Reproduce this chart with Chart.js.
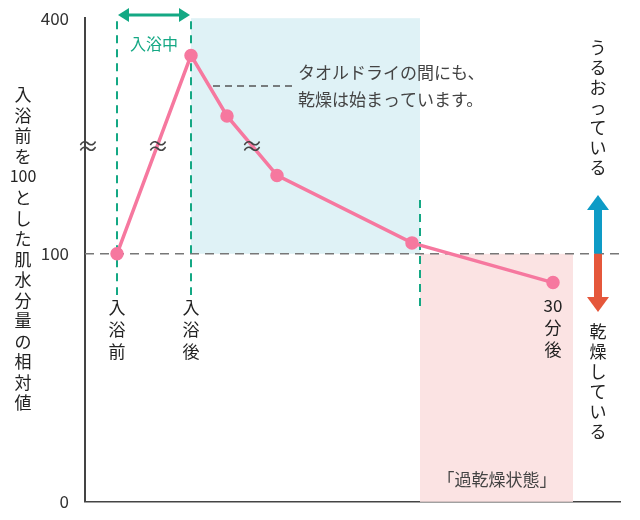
<!DOCTYPE html>
<html>
<head>
<meta charset="utf-8">
<script src="https://cdn.jsdelivr.net/npm/chart.js@4/dist/chart.umd.min.js"></script>
<style>
  html, body { margin: 0; background: #fff; }
  #wrap { width: 640px; height: 520px; }
</style>
</head>
<body>
<div id="wrap"><canvas id="c"></canvas></div>
<script>
  // x: time position along the chart (arbitrary units), y: display units (broken axis, 100 = before bath)
  const timeX = [32, 106, 142, 192, 327, 468];
  const moisture = [100, 180, 155.6, 131.6, 104.4, 88.4];
  const tickValues = [0, 100, 195];
  const tickLabels = ['0', '100', '400'];

  const FONT = '"Noto Sans CJK JP", "Noto Sans", sans-serif';
  const GREEN = '#14a884';

  const vText = (ctx, str, x, y, step) => {
      [...str].forEach((ch, i) => ctx.fillText(ch, x, y + i * step));
  };

  const arrowH = (ctx, x1, x2, y, col) => {
      ctx.strokeStyle = col; ctx.fillStyle = col; ctx.lineWidth = 3;
      ctx.beginPath(); ctx.moveTo(x1 + 8, y); ctx.lineTo(x2 - 8, y); ctx.stroke();
      ctx.beginPath(); ctx.moveTo(x1, y); ctx.lineTo(x1 + 11, y - 7); ctx.lineTo(x1 + 11, y + 7); ctx.fill();
      ctx.beginPath(); ctx.moveTo(x2, y); ctx.lineTo(x2 - 11, y - 7); ctx.lineTo(x2 - 11, y + 7); ctx.fill();
  };

  const arrowV = (ctx, x, y1, y2, col) => {
      // shaft from y1 to arrow head at y2
      const dir = y2 < y1 ? -1 : 1;
      ctx.fillStyle = col;
      ctx.fillRect(x - 4, Math.min(y1, y2 - dir * 14), 8, Math.abs(y2 - dir * 14 - y1));
      ctx.beginPath(); ctx.moveTo(x, y2); ctx.lineTo(x - 11, y2 - dir * 15); ctx.lineTo(x + 11, y2 - dir * 15); ctx.fill();
  };

  const decor = {
      id: 'decor',
      beforeDatasetsDraw(chart) {
          const { ctx, scales: { x, y }, chartArea: a } = chart;
          const y100 = y.getPixelForValue(100);
          ctx.save();
          // shaded areas
          ctx.fillStyle = '#dff2f6';
          ctx.fillRect(x.getPixelForValue(106), a.top, x.getPixelForValue(335) - x.getPixelForValue(106), y100 - a.top);
          ctx.fillStyle = '#fbe3e3';
          ctx.fillRect(x.getPixelForValue(335), y100, x.getPixelForValue(488) - x.getPixelForValue(335), a.bottom - y100);
          // 100 reference line
          ctx.setLineDash([9, 6]); ctx.lineWidth = 1.5; ctx.strokeStyle = '#777';
          ctx.beginPath(); ctx.moveTo(a.left, y100); ctx.lineTo(a.right, y100); ctx.stroke();
          // green dashed verticals
          ctx.strokeStyle = GREEN; ctx.lineWidth = 2; ctx.setLineDash([8, 6]);
          [[32, a.top + 3, 295], [106, a.top + 3, 295], [335, 200, 312]].forEach(([v, t, b]) => {
              const px = x.getPixelForValue(v);
              ctx.beginPath(); ctx.moveTo(px, t); ctx.lineTo(px, b); ctx.stroke();
          });
          // leader line
          ctx.strokeStyle = '#555'; ctx.lineWidth = 1.5; ctx.setLineDash([7, 5]);
          ctx.beginPath(); ctx.moveTo(213, 86); ctx.lineTo(295, 86); ctx.stroke();
          ctx.restore();
      },
      afterDraw(chart) {
          const { ctx, scales: { x, y } } = chart;
          ctx.save();
          ctx.textAlign = 'center'; ctx.textBaseline = 'middle';
          // 入浴中
          arrowH(ctx, x.getPixelForValue(32) + 1, x.getPixelForValue(106) - 1, 15, GREEN);
          ctx.fillStyle = GREEN; ctx.font = '16px ' + FONT;
          ctx.fillText('入浴中', 154, 44);
          // wave marks
          ctx.fillStyle = '#444'; ctx.font = '22px ' + FONT;
          [88, 158, 252].forEach(px => ctx.fillText('≈', px, 146));
          // point labels
          ctx.fillStyle = '#222'; ctx.font = '17px ' + FONT;
          vText(ctx, '入浴前', x.getPixelForValue(32), 308, 22);
          vText(ctx, '入浴後', x.getPixelForValue(106), 308, 22);
          ctx.fillText('30', 553, 306); vText(ctx, '分後', 553, 328, 22);
          // annotation
          ctx.fillStyle = '#444'; ctx.textAlign = 'left';
          ctx.fillText('タオルドライの間にも、', 298, 73);
          ctx.fillText('乾燥は始まっています。', 298, 100);
          ctx.textAlign = 'center';
          ctx.fillText('「過乾燥状態」', 497, 480);
          // left axis title
          ctx.fillStyle = '#222';
          vText(ctx, '入浴前を', 23, 95, 20.5);
          ctx.font = '16px ' + FONT; ctx.fillText('100', 23, 176);
          ctx.font = '17px ' + FONT;
          vText(ctx, 'とした肌水分量の相対値', 23, 198, 20.5);
          // right side
          vText(ctx, 'うるおっている', 598, 48, 20);
          vText(ctx, '乾燥している', 598, 332, 20);
          arrowV(ctx, 598, y.getPixelForValue(100), 195, '#0e9bc6');
          arrowV(ctx, 598, y.getPixelForValue(100), 312, '#e5573b');
          ctx.restore();
      }
  };

  document.addEventListener('DOMContentLoaded', () => {
      new Chart(document.getElementById('c'), {
          type: 'scatter',
          data: {
              datasets: [{
                  data: timeX.map((t, i) => ({ x: t, y: moisture[i] })),
                  showLine: true,
                  borderColor: '#f6789f',
                  backgroundColor: '#f6789f',
                  borderWidth: 3.5,
                  pointRadius: 5,
                  pointHoverRadius: 5
              }]
          },
          options: {
              responsive: true,
              maintainAspectRatio: false,
              animation: false,
              layout: { padding: { top: 17, bottom: 14, right: 20, left: 0 } },
              plugins: { legend: { display: false }, tooltip: { enabled: false } },
              scales: {
                  x: {
                      type: 'linear', min: 0, max: 535,
                      grid: { display: false, drawTicks: false },
                      border: { color: '#444', width: 1.5 },
                      ticks: { display: false }
                  },
                  y: {
                      min: 0, max: 195,
                      afterFit: s => { s.width = 85; },
                      afterBuildTicks: s => { s.ticks = tickValues.map(v => ({ value: v })); },
                      grid: { display: false },
                      border: { color: '#444', width: 2 },
                      ticks: {
                          color: '#333', padding: 8,
                          font: { family: FONT, size: 17 },
                          callback: v => tickLabels[tickValues.indexOf(v)]
                      }
                  }
              }
          },
          plugins: [decor]
      });
  });
</script>
</body>
</html>
